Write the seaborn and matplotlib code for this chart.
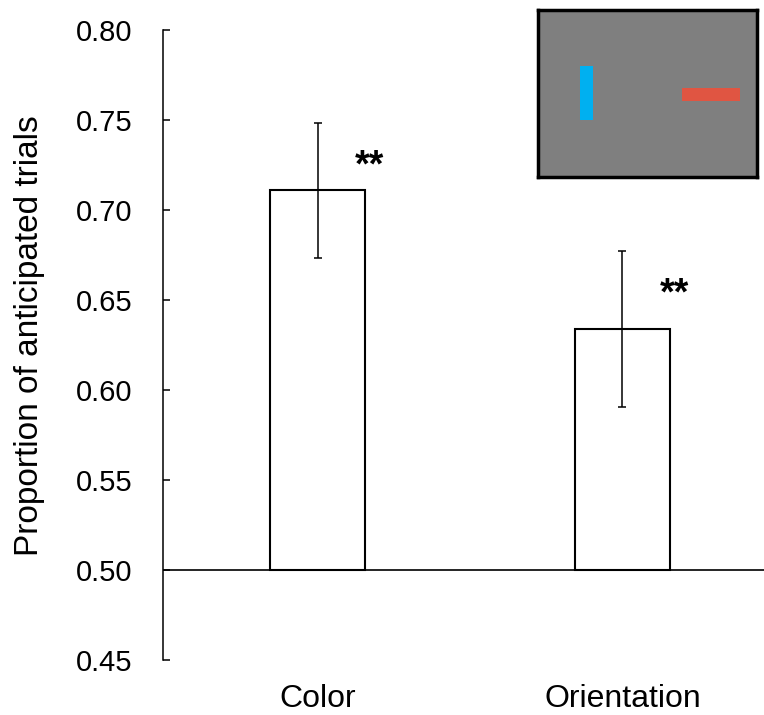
import numpy as np
import pandas as pd
import seaborn as sns
import matplotlib.pyplot as plt
from matplotlib.patches import Rectangle

# data
conditions = ["Color", "Orientation"]
proportions = [0.711, 0.634]
errors = [0.0375, 0.0435]
stars = ["**", "**"]
chance = 0.50
y_ticks = [0.45, 0.50, 0.55, 0.60, 0.65, 0.70, 0.75, 0.80]

sns.set_theme(style="ticks")
plt.rcParams['font.family'] = ['Liberation Sans', 'DejaVu Sans']
plt.rcParams['text.color'] = 'black'
plt.rcParams['xtick.color'] = 'black'
plt.rcParams['ytick.color'] = 'black'

df = pd.DataFrame({"condition": conditions, "proportion": proportions})

fig = plt.figure(figsize=(7.64, 7.15), dpi=100)
ax = fig.add_axes([0.2134, 0.0769, 0.7866, 0.8811])

sns.barplot(data=df, x="condition", y="proportion", color="white",
            edgecolor="black", linewidth=1.5, width=0.311, errorbar=None,
            saturation=1, ax=ax)
# bars start at chance level instead of zero
for patch in ax.patches:
    top = patch.get_y() + patch.get_height()
    patch.set_y(chance)
    patch.set_height(top - chance)

ax.errorbar(np.arange(len(conditions)), proportions, yerr=errors, fmt="none",
            ecolor="black", elinewidth=1.1, capsize=3, capthick=1.1, zorder=5)
ax.axhline(chance, color="black", lw=1.2, zorder=1)

for i, (p, e, s) in enumerate(zip(proportions, errors, stars)):
    ax.text(i + 0.17, p + e - 0.030, s, ha="center", va="baseline",
            fontsize=27, fontweight="bold", color="black")

ax.set_ylim(0.45, 0.80)
ax.set_xlim(-0.5066, 1.464)
ax.set_yticks(y_ticks)
ax.set_yticklabels([f"{t:.2f}" for t in y_ticks])
ax.tick_params(axis="y", direction="in", length=5, width=1.1, labelsize=21, pad=22)
ax.tick_params(axis="x", length=0, labelsize=23, pad=17)
ax.set_xlabel("")
ax.set_ylabel("")
for side in ["top", "right", "bottom"]:
    ax.spines[side].set_visible(False)
ax.spines["left"].set_linewidth(1.1)
ax.spines["left"].set_color("black")
ax.set_facecolor("white")

fig.text(30 / 764, 0.53, "Proportion of anticipated trials", rotation=90,
         ha="center", va="center", fontsize=24)

# stimulus inset
ins = fig.add_axes([0.7042, 0.7524, 0.2866, 0.2336])
ins.set_facecolor("#7f7f7f")
ins.set_xticks([])
ins.set_yticks([])
for sp in ins.spines.values():
    sp.set_linewidth(2.5)
    sp.set_color("black")
ins.add_patch(Rectangle((0.192, 0.341), 0.059, 0.323, color="#00b0f0", lw=0))
ins.add_patch(Rectangle((0.658, 0.455), 0.265, 0.078, color="#e05542", lw=0))

fig.savefig("out.png", dpi=100)
